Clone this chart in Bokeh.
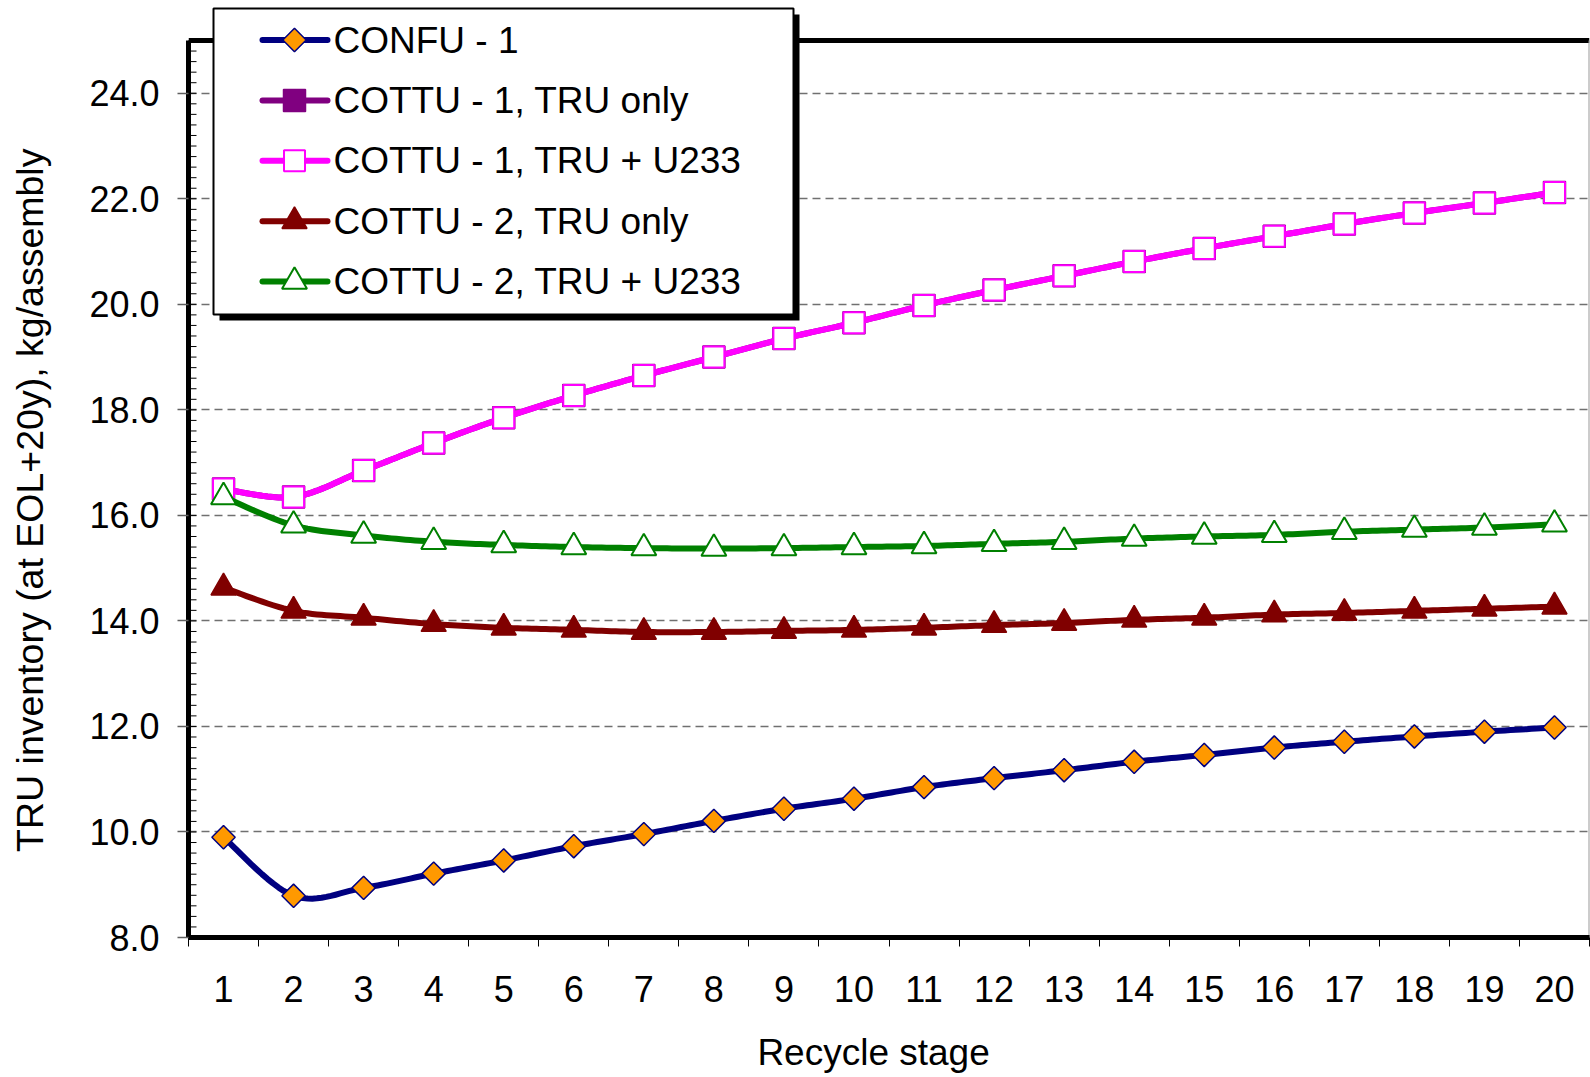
import numpy as np
from bokeh.plotting import figure
from bokeh.models import Range1d, FixedTicker, PrintfTickFormatter, ColumnDataSource
from bokeh.core.properties import value
from bokeh.embed import file_html
from bokeh.resources import INLINE

# ---------------- data ----------------
stages = [1, 2, 3, 4, 5, 6, 7, 8, 9, 10, 11, 12, 13, 14, 15, 16, 17, 18, 19, 20]
confu_1 = [9.90, 8.79, 8.94, 9.21, 9.46, 9.73, 9.96, 10.21, 10.44, 10.63,
           10.85, 11.02, 11.17, 11.33, 11.46, 11.60, 11.71, 11.81, 11.90, 11.98]
cottu1_tru_only = [16.50, 16.35, 16.85, 17.37, 17.85, 18.27, 18.65, 19.00, 19.35, 19.65,
                   19.98, 20.27, 20.54, 20.81, 21.06, 21.29, 21.52, 21.73, 21.92, 22.12]
cottu1_tru_u233 = [16.50, 16.35, 16.85, 17.37, 17.85, 18.27, 18.65, 19.00, 19.35, 19.65,
                   19.98, 20.27, 20.54, 20.81, 21.06, 21.29, 21.52, 21.73, 21.92, 22.12]
cottu2_tru_only = [14.63, 14.19, 14.06, 13.94, 13.87, 13.83, 13.79, 13.79, 13.81, 13.83,
                   13.87, 13.92, 13.96, 14.02, 14.06, 14.12, 14.15, 14.19, 14.23, 14.27]
cottu2_tru_u233 = [16.35, 15.81, 15.62, 15.50, 15.44, 15.40, 15.38, 15.37, 15.38, 15.40,
                   15.42, 15.46, 15.50, 15.56, 15.60, 15.63, 15.69, 15.73, 15.77, 15.83]
series_names = ["CONFU - 1", "COTTU - 1, TRU only", "COTTU - 1, TRU + U233",
                "COTTU - 2, TRU only", "COTTU - 2, TRU + U233"]
y_tick_values = [8, 10, 12, 14, 16, 18, 20, 22, 24]
x_title = "Recycle stage"
y_title = "TRU inventory (at EOL+20y), kg/assembly"

# ---------------- layout ----------------
W, H = 1590, 1077
FL, FR, FT, FB = 188, 1589, 0, 937      # frame in pixels
X0, X1 = 0.5, 20.5
Y_LO, Y_HI = 8.0, 25.0
Y_HI_PX = 40                            # pixel row of y = 25
ppu_y = (FB - Y_HI_PX) / (Y_HI - Y_LO)
ppu_x = (FR - FL) / (X1 - X0)
y_top = Y_LO + (FB - FT) / ppu_y


def px2x(px):
    return X0 + (px - FL) / ppu_x


def py2y(py):
    return Y_LO + (FB - py) / ppu_y


def smooth(xs, ys, n=16):
    """Excel-like smoothed line (cubic Bezier through the points)."""
    P = np.column_stack([xs, ys]).astype(float)
    m = len(P)
    out = [P[0]]
    for i in range(m - 1):
        p0 = P[i - 1] if i > 0 else P[i]
        p1, p2 = P[i], P[i + 1]
        p3 = P[i + 2] if i + 2 < m else P[i + 1]
        c1 = p1 + (p2 - p0) / 6.0
        c2 = p2 - (p3 - p1) / 6.0
        t = np.linspace(0, 1, n)[1:, None]
        seg = ((1 - t) ** 3) * p1 + 3 * ((1 - t) ** 2) * t * c1 + 3 * (1 - t) * t ** 2 * c2 + t ** 3 * p2
        out.extend(seg)
    out = np.array(out)
    return out[:, 0], out[:, 1]


FONT = "Liberation Sans"
NBSP = "\u00a0"

p = figure(width=W, height=H, x_range=Range1d(X0, X1), y_range=Range1d(Y_LO, y_top),
           output_backend="svg", toolbar_location=None,
           min_border_left=FL, min_border_right=W - FR, min_border_top=FT,
           min_border_bottom=H - FB)
p.outline_line_color = None
p.background_fill_color = "white"
p.border_fill_color = "white"

# ---- axes ----
xa = p.xaxis[0]
x_bounds = [s - 0.5 for s in stages] + [stages[-1] + 0.5]
xa.ticker = FixedTicker(ticks=stages, minor_ticks=x_bounds)
xa.axis_line_width = 5
xa.axis_line_color = "black"
xa.major_tick_out = 0
xa.major_tick_in = 0
xa.minor_tick_out = 9
xa.minor_tick_in = 0
xa.minor_tick_line_color = "black"
xa.minor_tick_line_width = 1
xa.major_label_standoff = 29
xa.major_label_text_font = FONT
xa.major_label_text_font_size = "36px"
xa.major_label_text_color = "black"
xa.axis_label = x_title + NBSP * 3
xa.axis_label_standoff = 27
xa.axis_label_text_font = FONT
xa.axis_label_text_font_size = "37px"
xa.axis_label_text_font_style = "normal"
xa.axis_label_text_color = "black"

ya = p.yaxis[0]
y_minor = [round(8 + 0.2 * i, 1) for i in range(86)]
ya.ticker = FixedTicker(ticks=y_tick_values, minor_ticks=y_minor)
ya.bounds = (Y_LO, Y_HI)
ya.formatter = PrintfTickFormatter(format="%.1f")
ya.axis_line_width = 5
ya.axis_line_color = "black"
ya.major_tick_out = 11
ya.major_tick_in = 0
ya.major_tick_line_color = "#606060"
ya.major_tick_line_width = 1.5
ya.minor_tick_in = 0
ya.minor_tick_out = 0
ya.major_label_standoff = 18
ya.major_label_text_font = FONT
ya.major_label_text_font_size = "36px"
ya.major_label_text_color = "black"
ya.axis_label = y_title + NBSP * 6
ya.axis_label_standoff = 35
ya.axis_label_text_font = FONT
ya.axis_label_text_font_size = "37.5px"
ya.axis_label_text_font_style = "normal"
ya.axis_label_text_color = "black"

p.xgrid.visible = False
p.ygrid.ticker = FixedTicker(ticks=y_tick_values[1:])
p.ygrid.grid_line_color = "#707070"
p.ygrid.grid_line_dash = "8 5"
p.ygrid.grid_line_width = 1.5

# ---- series ----
styles = [
    dict(data=confu_1, color="#000080", marker="square", size=16.5, angle=np.pi / 4,
         fill="#FF9900", mline="#000080", mlw=1.5),
    dict(data=cottu1_tru_only, color="#800080", marker="square", size=22, angle=0,
         fill="#800080", mline="#800080", mlw=1.5),
    dict(data=cottu1_tru_u233, color="#FF00FF", marker="square", size=21, angle=0,
         fill="white", mline="#FF00FF", mlw=2),
    dict(data=cottu2_tru_only, color="#800000", marker="triangle", size=25, angle=0,
         fill="#800000", mline="#800000", mlw=1.5),
    dict(data=cottu2_tru_u233, color="#008000", marker="triangle", size=25, angle=0,
         fill="white", mline="#008000", mlw=2),
]

for st in styles:
    sx, sy = smooth(stages, st["data"])
    p.line(sx, sy, line_color=st["color"], line_width=6, line_join="round", line_cap="round")
    p.scatter(stages, st["data"], marker=st["marker"], size=st["size"], angle=st["angle"],
              fill_color=st["fill"], line_color=st["mline"], line_width=st["mlw"])

# ---- plot-area border: inner halves of the thick axis lines, top, right ----
p.segment(x0=[X0], y0=[Y_LO], x1=[X0], y1=[Y_HI], line_color="black", line_width=5)
p.segment(x0=[X0], y0=[Y_LO], x1=[X1], y1=[Y_LO], line_color="black", line_width=5)
p.segment(x0=[X0], y0=[Y_HI], x1=[X1], y1=[Y_HI], line_color="black", line_width=5)
p.segment(x0=[X1], y0=[Y_LO], x1=[X1], y1=[Y_HI], line_color="#9a9a9a", line_width=2)
# inward minor ticks of the value axis
n_minor = len(y_minor)
p.segment(x0=[X0] * n_minor, y0=y_minor, x1=[px2x(FL + 8)] * n_minor, y1=y_minor,
          line_color="black", line_width=1)

# ---- legend (box with shadow) ----
LB_L, LB_R, LB_T, LB_B = 213, 793, 8, 314
SH = 6
p.quad(left=[px2x(LB_L + SH)], right=[px2x(LB_R + SH)], top=[py2y(LB_T + SH)],
       bottom=[py2y(LB_B + SH)], fill_color="black", line_color=None)
p.quad(left=[px2x(LB_L)], right=[px2x(LB_R)], top=[py2y(LB_T)], bottom=[py2y(LB_B)],
       fill_color="white", line_color="black", line_width=2)

ROW0, PITCH = 39.5, 60.4
G_L, G_R, G_M, T_L = 262, 327, 294, 333
for i, st in enumerate(styles):
    ry = py2y(ROW0 + i * PITCH)
    p.segment(x0=[px2x(G_L)], y0=[ry], x1=[px2x(G_R)], y1=[ry], line_color=st["color"],
              line_width=6, line_cap="round")
    p.scatter([px2x(G_M)], [ry], marker=st["marker"], size=st["size"], angle=st["angle"],
              fill_color=st["fill"], line_color=st["mline"], line_width=st["mlw"])

leg_src = ColumnDataSource(dict(x=[px2x(T_L)] * len(series_names),
                                y=[py2y(ROW0 + i * PITCH) for i in range(len(series_names))],
                                t=series_names))
p.text(x="x", y="y", text="t", source=leg_src, text_font=value(FONT),
       text_font_size=value("37px"), text_baseline="middle", text_align="left",
       text_color="black")

open("out.html", "w").write(file_html(p, INLINE))
